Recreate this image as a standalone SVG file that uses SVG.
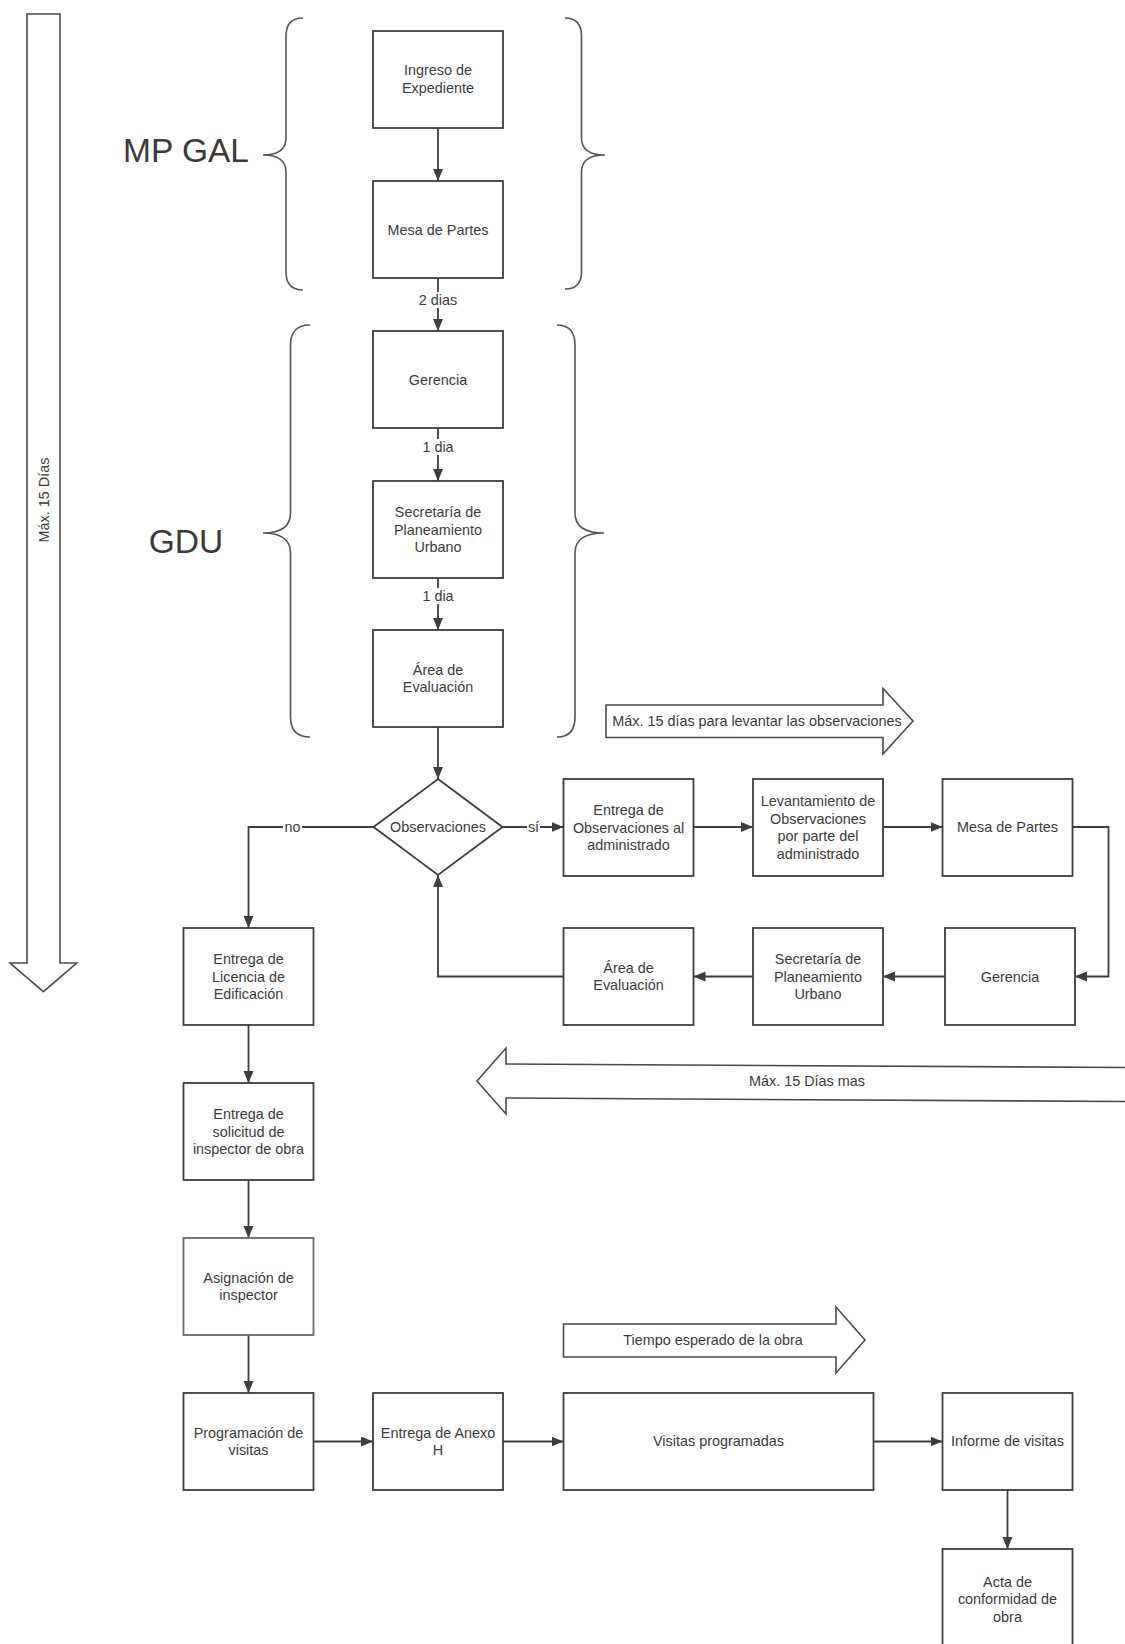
<svg xmlns="http://www.w3.org/2000/svg" width="1125" height="1644" viewBox="0 0 1125 1644">
<defs>
<marker id="ah" markerUnits="userSpaceOnUse" markerWidth="13" markerHeight="11" refX="12" refY="5" orient="auto">
<path d="M0,0 L12,5 L0,10 z" fill="#3d3d3d"/>
</marker>
<style>
.box{fill:#fff;stroke:#3d3d3d;stroke-width:1.8}
.t{font-family:"Liberation Sans",Arial,sans-serif;font-size:14.4px;fill:#3a3a3a;text-anchor:middle}
.big{font-family:"Liberation Sans",Arial,sans-serif;font-size:33.5px;fill:#3a3a3a;text-anchor:middle}
.c{fill:none;stroke:#3d3d3d;stroke-width:1.8;marker-end:url(#ah)}
.cn{fill:none;stroke:#3d3d3d;stroke-width:1.8}
.brace{fill:none;stroke:#555;stroke-width:1.6}
.barrow{fill:#fff;stroke:#4a4a4a;stroke-width:1.6}
.lbg{fill:#fff}
</style>
</defs>
<rect width="1125" height="1644" fill="#fff"/>

<g id="timeline-main">
<polygon class="barrow" points="27,14 60,14 60,963 76.7,963 43.4,991.7 10,963 27,963"/>
<text class="t" transform="translate(48.5,500) rotate(-90)">Máx. 15 Días</text>
</g>

<g id="group-mpgal">
<text class="big" x="186" y="162">MP GAL</text>
<path class="brace" d="M303,18 Q286,18 286,36 L286,138 Q286,155 263,155 Q286,155 286,172 L286,272 Q286,290 303,290"/>
<path class="brace" d="M565,18 Q581.5,18 581.5,36 L581.5,138 Q581.5,155 605,155 Q581.5,155 581.5,172 L581.5,272 Q581.5,289 565,289"/>
</g>

<g id="group-gdu">
<text class="big" x="186" y="553">GDU</text>
<path class="brace" d="M310,325 Q290.5,325 290.5,345 L290.5,513 Q290.5,533 263,533 Q290.5,533 290.5,553 L290.5,717 Q290.5,737 310,737"/>
<path class="brace" d="M557,325 Q575,325 575,345 L575,513 Q575,533 604,533 Q575,533 575,553 L575,717 Q575,737 557,737"/>
</g>

<g id="timeline-obs">
<polygon class="barrow" points="606,705 883,705 883,688.5 913,721 883,754 883,737.5 606,737.5"/>
<text class="t" x="757" y="726">Máx. 15 días para levantar las observaciones</text>
</g>

<g id="timeline-mas">
<polygon class="barrow" points="477,1081 506,1048 506,1064 1130,1067.5 1130,1101.5 506,1098 506,1114"/>
<text class="t" x="807" y="1086">Máx. 15 Días mas</text>
</g>

<g id="timeline-obra">
<polygon class="barrow" points="563.5,1324 836,1324 836,1307 865,1340 836,1373 836,1357 563.5,1357"/>
<text class="t" x="713" y="1345">Tiempo esperado de la obra</text>
</g>

<g id="connectors">
<path class="c" d="M438,128 V181"/>
<path class="c" d="M438,278 V331"/>
<path class="c" d="M438,428 V481"/>
<path class="c" d="M438,578 V630"/>
<path class="c" d="M438,727 V779"/>
<path class="c" d="M502.5,827 H563.5"/>
<path class="c" d="M693.5,827 H753"/>
<path class="c" d="M883,827 H942.5"/>
<path class="c" d="M1072.5,827 H1108.5 V976.5 H1075"/>
<path class="c" d="M945,976.5 H883"/>
<path class="c" d="M753,976.5 H693.5"/>
<path class="c" d="M563.5,976.5 H438 V875"/>
<path class="c" d="M373.5,827 H248.5 V928"/>
<path class="c" d="M248.5,1025 V1083"/>
<path class="c" d="M248.5,1180 V1238"/>
<path class="c" d="M248.5,1335 V1393"/>
<path class="c" d="M313.5,1441.5 H373"/>
<path class="c" d="M503,1441.5 H563.5"/>
<path class="c" d="M873.5,1441.5 H942.5"/>
<path class="c" d="M1007.5,1490 V1549"/>
<rect class="lbg" x="417" y="292" width="42" height="16"/>
<text class="t" x="438" y="305">2 dias</text>
<rect class="lbg" x="420" y="439" width="36" height="16"/>
<text class="t" x="438" y="452">1 dia</text>
<rect class="lbg" x="420" y="588" width="36" height="16"/>
<text class="t" x="438" y="601">1 dia</text>
<rect class="lbg" x="527" y="819" width="13" height="16"/>
<text class="t" x="533.5" y="832">sí</text>
<rect class="lbg" x="283" y="819" width="19" height="16"/>
<text class="t" x="292.5" y="832">no</text>
</g>

<g id="n-ingreso"><rect class="box" x="373" y="31" width="130" height="97"/>
<text class="t" x="438" y="75">Ingreso de</text><text class="t" x="438" y="92.5">Expediente</text></g>
<g id="n-mesa1"><rect class="box" x="373" y="181" width="130" height="97"/>
<text class="t" x="438" y="234.5">Mesa de Partes</text></g>
<g id="n-gerencia1"><rect class="box" x="373" y="331" width="130" height="97"/>
<text class="t" x="438" y="384.5">Gerencia</text></g>
<g id="n-secretaria1"><rect class="box" x="373" y="481" width="130" height="97"/>
<text class="t" x="438" y="517">Secretaría de</text><text class="t" x="438" y="534.5">Planeamiento</text><text class="t" x="438" y="552">Urbano</text></g>
<g id="n-area1"><rect class="box" x="373" y="630" width="130" height="97"/>
<text class="t" x="438" y="674.5">Área de</text><text class="t" x="438" y="692">Evaluación</text></g>
<g id="n-observaciones"><polygon class="box" points="438,779 502.5,827 438,875 373.5,827"/>
<text class="t" x="438" y="832">Observaciones</text></g>

<g id="n-entrega-obs"><rect class="box" x="563.5" y="779" width="130" height="97"/>
<text class="t" x="628.5" y="815">Entrega de</text><text class="t" x="628.5" y="832.5">Observaciones al</text><text class="t" x="628.5" y="850">administrado</text></g>
<g id="n-levantamiento"><rect class="box" x="753" y="779" width="130" height="97"/>
<text class="t" x="818" y="806">Levantamiento de</text><text class="t" x="818" y="823.5">Observaciones</text><text class="t" x="818" y="841">por parte del</text><text class="t" x="818" y="858.5">administrado</text></g>
<g id="n-mesa2"><rect class="box" x="942.5" y="779" width="130" height="97"/>
<text class="t" x="1007.5" y="832">Mesa de Partes</text></g>
<g id="n-gerencia2"><rect class="box" x="945" y="928" width="130" height="97"/>
<text class="t" x="1010" y="981.5">Gerencia</text></g>
<g id="n-secretaria2"><rect class="box" x="753" y="928" width="130" height="97"/>
<text class="t" x="818" y="964">Secretaría de</text><text class="t" x="818" y="981.5">Planeamiento</text><text class="t" x="818" y="999">Urbano</text></g>
<g id="n-area2"><rect class="box" x="563.5" y="928" width="130" height="97"/>
<text class="t" x="628.5" y="972.5">Área de</text><text class="t" x="628.5" y="990">Evaluación</text></g>

<g id="n-licencia"><rect class="box" x="183.5" y="928" width="130" height="97"/>
<text class="t" x="248.5" y="964">Entrega de</text><text class="t" x="248.5" y="981.5">Licencia de</text><text class="t" x="248.5" y="999">Edificación</text></g>
<g id="n-solicitud"><rect class="box" x="183.5" y="1083" width="130" height="97"/>
<text class="t" x="248.5" y="1119">Entrega de</text><text class="t" x="248.5" y="1136.5">solicitud de</text><text class="t" x="248.5" y="1154">inspector de obra</text></g>
<g id="n-asignacion"><rect class="box" x="183.5" y="1238" width="130" height="97" style="stroke:#6a6a6a"/>
<text class="t" x="248.5" y="1282.5">Asignación de</text><text class="t" x="248.5" y="1300">inspector</text></g>
<g id="n-programacion"><rect class="box" x="183.5" y="1393" width="130" height="97"/>
<text class="t" x="248.5" y="1437.5">Programación de</text><text class="t" x="248.5" y="1455">visitas</text></g>
<g id="n-anexo"><rect class="box" x="373" y="1393" width="130" height="97"/>
<text class="t" x="438" y="1437.5">Entrega de Anexo</text><text class="t" x="438" y="1455">H</text></g>
<g id="n-visitas"><rect class="box" x="563.5" y="1393" width="310" height="97"/>
<text class="t" x="718.5" y="1446">Visitas programadas</text></g>
<g id="n-informe"><rect class="box" x="942.5" y="1393" width="130" height="97"/>
<text class="t" x="1007.5" y="1446">Informe de visitas</text></g>
<g id="n-acta"><rect class="box" x="942.5" y="1549" width="130" height="97"/>
<text class="t" x="1007.5" y="1586.5">Acta de</text><text class="t" x="1007.5" y="1604">conformidad de</text><text class="t" x="1007.5" y="1621.5">obra</text></g>
</svg>
